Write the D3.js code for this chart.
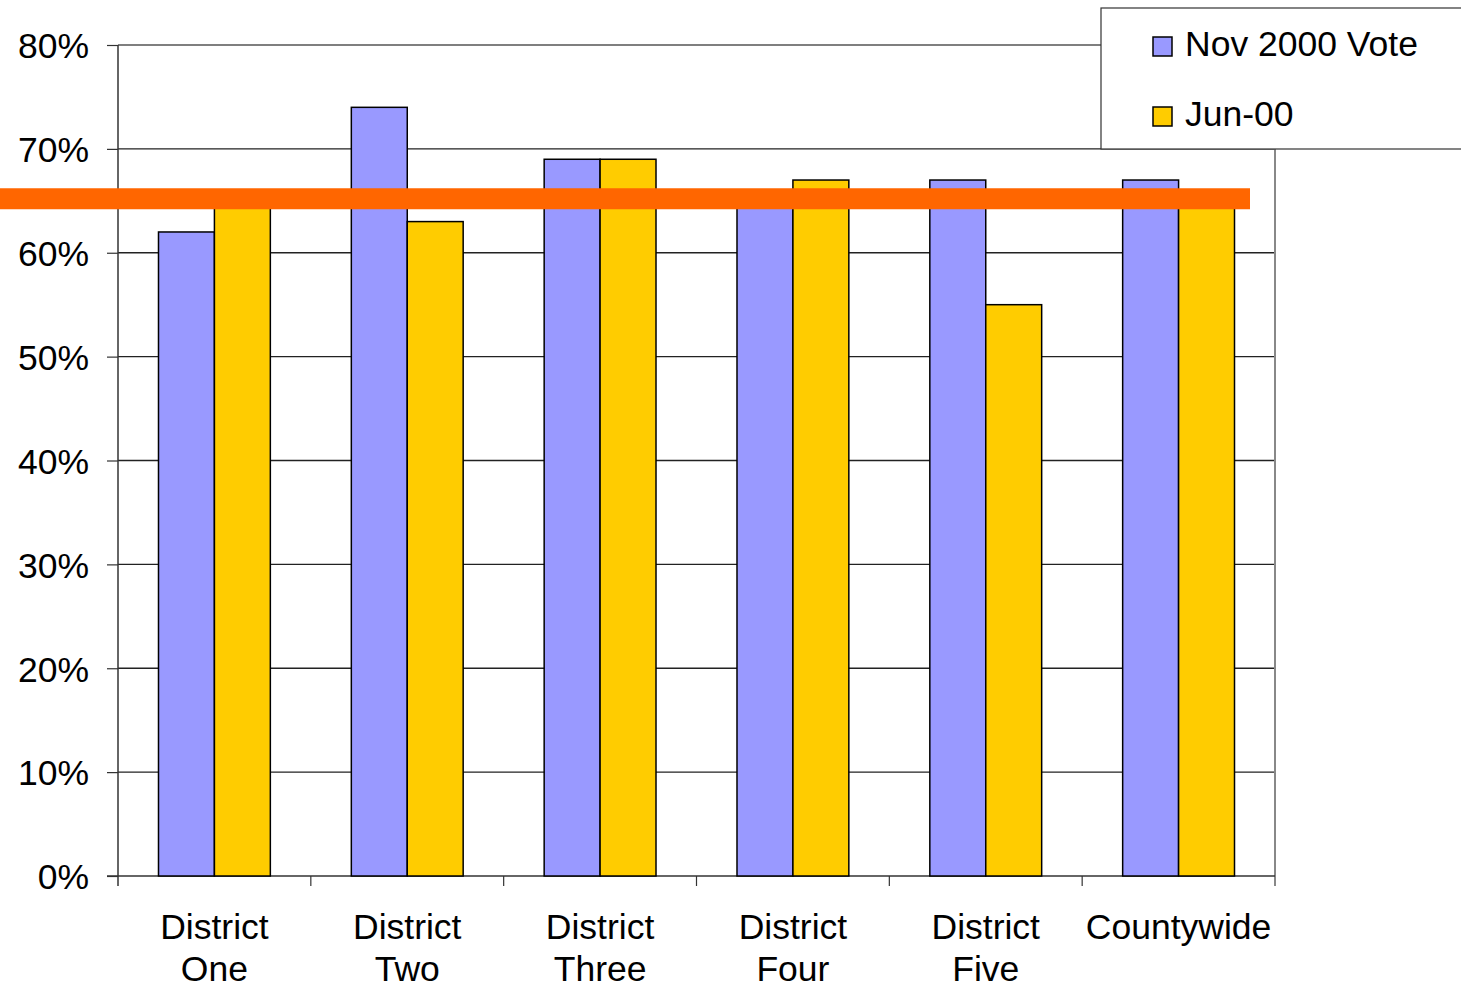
<!DOCTYPE html>
<html>
<head>
<meta charset="utf-8">
<script src="https://cdn.jsdelivr.net/npm/d3@7"></script>
<style>
  body { margin: 0; background: #fff; }
  svg { display: block; font-family: "Liberation Sans", Arial, sans-serif; }
</style>
</head>
<body>
<div id="chart"></div>
<script>
// data
const categories = [["District", "One"], ["District", "Two"], ["District", "Three"], ["District", "Four"], ["District", "Five"], ["Countywide"]];
const seriesNames = ["Nov 2000 Vote", "Jun-00"];
const nov2000 = [62, 74, 69, 65, 67, 67];
const jun00 = [65, 63, 69, 67, 55, 65];
const yTicks = [0, 10, 20, 30, 40, 50, 60, 70, 80];
const targetLine = 65.2;

const colors = ["#9999ff", "#ffcc00"];
const fontSize = 35.5;

const margin = { top: 45, right: 186, bottom: 112, left: 118 };
const width = 1461 - margin.left - margin.right;
const height = 988 - margin.top - margin.bottom;

const svg = d3.select("#chart").append("svg")
    .attr("width", 1461)
    .attr("height", 988);

const g = svg.append("g")
    .attr("transform", `translate(${margin.left},${margin.top})`);

const keys = categories.map(d => d.join(" "));

const x0 = d3.scaleBand()
    .domain(keys)
    .range([0, width])
    .paddingInner(0.42)
    .paddingOuter(0.21);

const x1 = d3.scaleBand()
    .domain(seriesNames)
    .range([0, x0.bandwidth()]);

const y = d3.scaleLinear()
    .domain([0, 80])
    .range([height, 0]);

// gridlines
g.append("g")
    .selectAll("line")
    .data(yTicks.filter(t => t > 0))
    .enter()
    .append("line")
    .attr("x1", 0)
    .attr("x2", width)
    .attr("y1", d => y(d))
    .attr("y2", d => y(d))
    .attr("stroke", d => d === 80 ? "#555" : "#222")
    .attr("stroke-width", 1.3);

// right border of plot
g.append("line")
    .attr("x1", width).attr("x2", width)
    .attr("y1", 0).attr("y2", height + 10)
    .attr("stroke", "#888")
    .attr("stroke-width", 2);

// y axis
const yAxis = g.append("g")
    .call(d3.axisLeft(y).tickValues(yTicks).tickFormat(d => d + "%").tickSize(11).tickPadding(18));
yAxis.select(".domain").attr("stroke", "#333").attr("stroke-width", 1.5)
    .attr("d", `M0,0V${height + 10}`);
yAxis.selectAll(".tick line").attr("stroke", "#333").attr("stroke-width", 1.2);
yAxis.selectAll("text")
    .attr("font-size", fontSize)
    .attr("font-family", "Liberation Sans, Arial, sans-serif")
    .attr("fill", "#000")
    .attr("dy", "0.36em");

// x axis
const xTickPos = d3.range(categories.length + 1).map(i => i * width / categories.length);
const xAxis = g.append("g").attr("transform", `translate(0,${height})`);
xAxis.append("line")
    .attr("x1", -11).attr("x2", width)
    .attr("stroke", "#333").attr("stroke-width", 1.5);
xAxis.selectAll(".xtick")
    .data(xTickPos.slice(1, -1))
    .enter()
    .append("line")
    .attr("class", "xtick")
    .attr("x1", d => d).attr("x2", d => d)
    .attr("y1", 0).attr("y2", 10)
    .attr("stroke", "#333").attr("stroke-width", 1.2);

const labels = xAxis.selectAll(".xlabel")
    .data(categories)
    .enter()
    .append("text")
    .attr("class", "xlabel")
    .attr("text-anchor", "middle")
    .attr("font-size", fontSize)
    .attr("fill", "#000")
    .attr("x", (d, i) => x0(keys[i]) + x0.bandwidth() / 2);
labels.selectAll("tspan")
    .data(d => d)
    .enter()
    .append("tspan")
    .attr("x", function () { return d3.select(this.parentNode).attr("x"); })
    .attr("y", (d, i) => 63 + i * 42)
    .text(d => d);

// bars
const groups = g.selectAll(".group")
    .data(keys.map((k, i) => ({ key: k, values: [nov2000[i], jun00[i]] })))
    .enter()
    .append("g")
    .attr("class", "group")
    .attr("transform", d => `translate(${x0(d.key)},0)`);

groups.selectAll("rect")
    .data(d => d.values.map((v, j) => ({ name: seriesNames[j], value: v, j })))
    .enter()
    .append("rect")
    .attr("x", d => x1(d.name))
    .attr("y", d => y(d.value))
    .attr("width", x1.bandwidth())
    .attr("height", d => height - y(d.value))
    .attr("fill", d => colors[d.j])
    .attr("stroke", "#000")
    .attr("stroke-width", 1.5);

// orange reference line
g.append("line")
    .attr("x1", -margin.left)
    .attr("x2", 1250 - margin.left)
    .attr("y1", y(targetLine))
    .attr("y2", y(targetLine))
    .attr("stroke", "#ff6600")
    .attr("stroke-width", 21);

// legend
const legend = svg.append("g").attr("transform", "translate(1101,8)");
legend.append("rect")
    .attr("x", 0).attr("y", 0)
    .attr("width", 400).attr("height", 141)
    .attr("fill", "#fff")
    .attr("stroke", "#333")
    .attr("stroke-width", 1.2);

const items = legend.selectAll(".item")
    .data(seriesNames)
    .enter()
    .append("g")
    .attr("class", "item")
    .attr("transform", (d, i) => `translate(52,${29 + i * 70})`);
items.append("rect")
    .attr("width", 19).attr("height", 19)
    .attr("fill", (d, i) => colors[i])
    .attr("stroke", "#000")
    .attr("stroke-width", 1.5);
items.append("text")
    .attr("x", 32)
    .attr("y", 19)
    .attr("font-size", fontSize)
    .attr("fill", "#000")
    .text(d => d);
</script>
</body>
</html>
